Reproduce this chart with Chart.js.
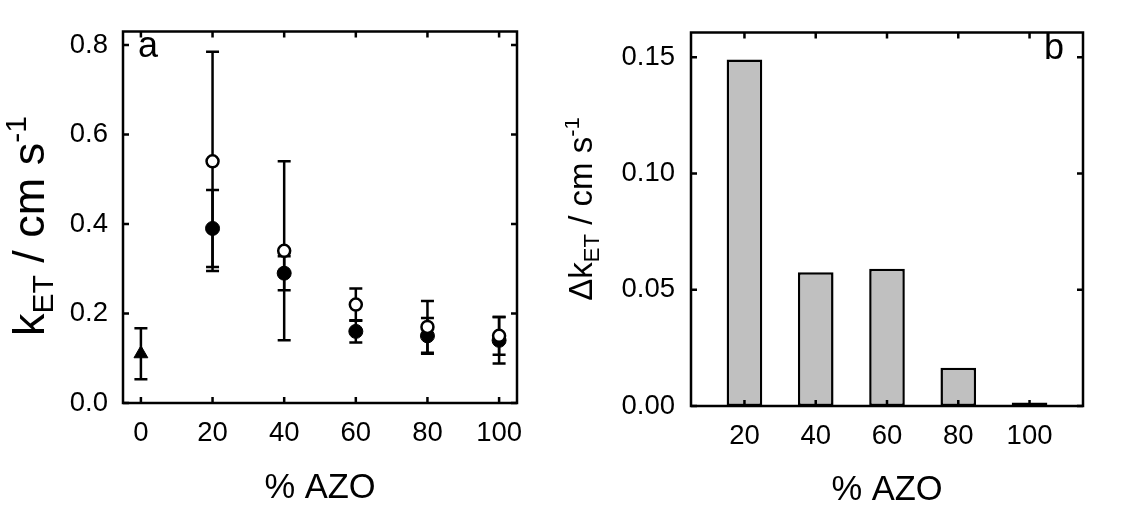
<!DOCTYPE html>
<html lang="en">
<head>
<meta charset="UTF-8">
<title>kET vs % AZO</title>
<script src="https://cdn.jsdelivr.net/npm/chart.js"></script>
<style>
  body { margin: 0; background: #fff; }
  #wrap { position: relative; width: 1130px; height: 507px; }
  canvas { position: absolute; top: 0; }
  #chartA { left: 0; }
  #chartB { left: 565px; }
</style>
</head>
<body>
<div id="wrap">
  <canvas id="chartA" width="565" height="507"></canvas>
  <canvas id="chartB" width="565" height="507"></canvas>
</div>
<script>
// --- data ---
var azo = [20, 40, 60, 80, 100];
var kOpen = [0.54, 0.34, 0.22, 0.17, 0.15];
var errOpen = [0.245, 0.20, 0.036, 0.058, 0.042];
var kFilled = [0.39, 0.29, 0.16, 0.15, 0.14];
var errFilled = [0.086, 0.038, 0.025, 0.04, 0.052];
var azoRef = [0];
var kRef = [0.11];
var errRef = [0.057];
var dk = [0.149, 0.0575, 0.059, 0.0165, 0.0015];

// tick values and labels
var xTicksA = [0, 20, 40, 60, 80, 100];
var yTicksA = [0, 0.2, 0.4, 0.6, 0.8];
var yLabelsA = ['0.0', '0.2', '0.4', '0.6', '0.8'];
var xTicksB = [20, 40, 60, 80, 100];
var yTicksB = [0, 0.05, 0.10, 0.15];
var yLabelsB = ['0.00', '0.05', '0.10', '0.15'];

var FONT = "'Liberation Sans', Arial, sans-serif";

function pts(xs, ys) {
    return xs.map(function (x, i) { return { x: x, y: ys[i] }; });
}

// frame box with inward ticks on all four sides
var frame = {
    id: 'frame',
    afterDatasetsDraw: function (chart) {
        var ctx = chart.ctx, a = chart.chartArea;
        var sx = chart.scales.x, sy = chart.scales.y, t = 6;
        ctx.save();
        ctx.strokeStyle = '#000';
        ctx.lineWidth = 2.5;
        ctx.beginPath();
        sx.ticks.forEach(function (tk) {
            var p = sx.getPixelForValue(tk.value);
            ctx.moveTo(p, a.bottom); ctx.lineTo(p, a.bottom - t);
            ctx.moveTo(p, a.top); ctx.lineTo(p, a.top + t);
        });
        sy.ticks.forEach(function (tk) {
            var p = sy.getPixelForValue(tk.value);
            ctx.moveTo(a.left, p); ctx.lineTo(a.left + t, p);
            ctx.moveTo(a.right, p); ctx.lineTo(a.right - t, p);
        });
        ctx.stroke();
        ctx.strokeRect(a.left, a.top, a.right - a.left, a.bottom - a.top);
        ctx.restore();
    }
};

// vertical error bars with caps
var errorBars = {
    id: 'errorBars',
    beforeDatasetsDraw: function (chart, args, opts) {
        var ctx = chart.ctx, sx = chart.scales.x, sy = chart.scales.y, cap = 6.5;
        ctx.save();
        ctx.strokeStyle = '#000';
        ctx.lineWidth = 2.5;
        (opts.sets || []).forEach(function (s) {
            s.x.forEach(function (xv, i) {
                var px = sx.getPixelForValue(xv);
                var top = sy.getPixelForValue(s.y[i] + s.err[i]);
                var bot = sy.getPixelForValue(s.y[i] - s.err[i]);
                ctx.beginPath();
                ctx.moveTo(px, top); ctx.lineTo(px, bot);
                ctx.moveTo(px - cap, top); ctx.lineTo(px + cap, top);
                ctx.moveTo(px - cap, bot); ctx.lineTo(px + cap, bot);
                ctx.stroke();
            });
        });
        ctx.restore();
    }
};

// axis titles (with sub/superscripts) and panel letter
function drawRich(ctx, parts, main, small) {
    var w = 0;
    parts.forEach(function (p) {
        ctx.font = (p.s ? small : main) + 'px ' + FONT;
        p.w = ctx.measureText(p.t).width;
        w += p.w;
    });
    var x = -w / 2;
    parts.forEach(function (p) {
        ctx.font = (p.s ? small : main) + 'px ' + FONT;
        var dy = p.s === -1 ? main * 0.21 : (p.s === 1 ? -main * 0.39 : 0);
        ctx.fillText(p.t, x, dy);
        x += p.w;
    });
}

var titles = {
    id: 'titles',
    afterDraw: function (chart, args, o) {
        var ctx = chart.ctx, a = chart.chartArea;
        ctx.save();
        ctx.fillStyle = '#000';
        ctx.textBaseline = 'alphabetic';
        ctx.textAlign = 'center';
        ctx.font = '34.5px ' + FONT;
        ctx.fillText(o.xTitle, (a.left + a.right) / 2, o.xTitleY);
        ctx.textAlign = 'left';
        ctx.font = '36px ' + FONT;
        ctx.fillText(o.letter, o.letterX, o.letterY);
        ctx.translate(o.yTitleX, o.yTitleY);
        ctx.rotate(-Math.PI / 2);
        drawRich(ctx, o.yParts, o.ySize, Math.round(o.ySize * 0.66));
        ctx.restore();
    }
};

function tickFont() { return { family: FONT, size: 27.5 }; }

// panel a
new Chart(document.getElementById('chartA'), {
    type: 'scatter',
    data: {
        datasets: [{
            data: pts(azo, kOpen),
            pointStyle: 'circle',
            pointRadius: 6,
            pointBorderWidth: 2.5,
            pointBackgroundColor: '#fff',
            pointBorderColor: '#000'
        }, {
            data: pts(azo, kFilled),
            pointStyle: 'circle',
            pointRadius: 7,
            pointBorderWidth: 1,
            pointBackgroundColor: '#000',
            pointBorderColor: '#000'
        }, {
            data: pts(azoRef, kRef),
            pointStyle: 'triangle',
            pointRadius: 8,
            pointBorderWidth: 1,
            pointBackgroundColor: '#000',
            pointBorderColor: '#000'
        }]
    },
    options: {
        responsive: false,
        animation: false,
        devicePixelRatio: 1,
        layout: { padding: { left: 0, right: 48, top: 10, bottom: 0 } },
        scales: {
            x: {
                type: 'linear', min: -5, max: 105,
                afterBuildTicks: function (s) { s.ticks = xTicksA.map(function (v) { return { value: v }; }); },
                afterFit: function (s) { s.height = 104; },
                grid: { display: false, drawTicks: false },
                border: { display: false },
                ticks: { color: '#000', font: tickFont(), padding: 14, maxRotation: 0 }
            },
            y: {
                min: 0, max: 0.83,
                afterBuildTicks: function (s) { s.ticks = yTicksA.map(function (v) { return { value: v }; }); },
                afterFit: function (s) { s.width = 123; },
                grid: { display: false, drawTicks: false },
                border: { display: false },
                ticks: { color: '#000', font: tickFont(), padding: 15,
                    callback: function (v, i) { return yLabelsA[i]; } }
            }
        },
        plugins: {
            legend: { display: false },
            tooltip: { enabled: false },
            errorBars: { sets: [
                { x: azo, y: kOpen, err: errOpen },
                { x: azo, y: kFilled, err: errFilled },
                { x: azoRef, y: kRef, err: errRef }
            ] },
            titles: {
                xTitle: '% AZO', xTitleY: 498,
                letter: 'a', letterX: 138, letterY: 57,
                yTitleX: 44, yTitleY: 226, ySize: 45,
                yParts: [{ t: 'k', s: 0 }, { t: 'ET', s: -1 }, { t: ' / cm s', s: 0 }, { t: '-1', s: 1 }]
            }
        }
    },
    plugins: [errorBars, frame, titles]
});

// panel b
new Chart(document.getElementById('chartB'), {
    type: 'bar',
    data: {
        datasets: [{
            data: pts(azo, dk),
            backgroundColor: '#c0c0c0',
            borderColor: '#000',
            borderWidth: 2.5,
            borderSkipped: false,
            barPercentage: 0.5,
            categoryPercentage: 1.0
        }]
    },
    options: {
        responsive: false,
        animation: false,
        devicePixelRatio: 1,
        layout: { padding: { left: 0, right: 47, top: 12, bottom: 0 } },
        scales: {
            x: {
                type: 'linear', min: 5, max: 115, offset: false,
                afterBuildTicks: function (s) { s.ticks = xTicksB.map(function (v) { return { value: v }; }); },
                afterFit: function (s) { s.height = 101; },
                grid: { display: false, drawTicks: false, offset: false },
                border: { display: false },
                ticks: { color: '#000', font: tickFont(), padding: 14, maxRotation: 0 }
            },
            y: {
                min: 0, max: 0.1606,
                afterBuildTicks: function (s) { s.ticks = yTicksB.map(function (v) { return { value: v }; }); },
                afterFit: function (s) { s.width = 126; },
                grid: { display: false, drawTicks: false },
                border: { display: false },
                ticks: { color: '#000', font: tickFont(), padding: 16,
                    callback: function (v, i) { return yLabelsB[i]; } }
            }
        },
        plugins: {
            legend: { display: false },
            tooltip: { enabled: false },
            titles: {
                xTitle: '% AZO', xTitleY: 500,
                letter: 'b', letterX: 479, letterY: 59,
                yTitleX: 27, yTitleY: 209, ySize: 33,
                yParts: [{ t: '\u0394k', s: 0 }, { t: 'ET', s: -1 }, { t: ' / cm s', s: 0 }, { t: '-1', s: 1 }]
            }
        }
    },
    plugins: [frame, titles]
});
</script>
</body>
</html>
